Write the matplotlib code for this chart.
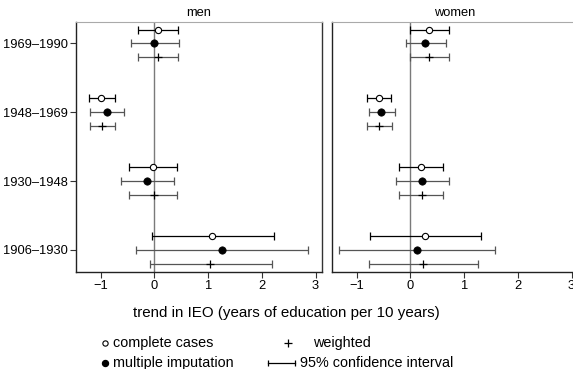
import numpy as np
import matplotlib
matplotlib.use('Agg')
from matplotlib import pyplot as plt
from matplotlib.lines import Line2D

plt.rcParams['font.family'] = ['Liberation Sans', 'DejaVu Sans']
plt.rcParams['font.size'] = 9

cohorts = ['1969\u20131990', '1948\u20131969', '1930\u20131948', '1906\u20131930']
ypos = np.array([4, 3, 2, 1])

# men: point estimate, lower and upper 95% bound
men_cc = [0.07, -0.99, -0.02, 1.08]
men_cc_lo = [-0.30, -1.22, -0.47, -0.05]
men_cc_hi = [0.43, -0.74, 0.42, 2.23]
men_mi = [0.00, -0.89, -0.14, 1.25]
men_mi_lo = [-0.44, -1.20, -0.63, -0.35]
men_mi_hi = [0.46, -0.56, 0.37, 2.86]
men_w = [0.07, -0.97, -0.01, 1.04]
men_w_lo = [-0.30, -1.20, -0.47, -0.09]
men_w_hi = [0.43, -0.73, 0.42, 2.19]

# women
women_cc = [0.34, -0.59, 0.19, 0.28]
women_cc_lo = [0.00, -0.81, -0.21, -0.76]
women_cc_hi = [0.71, -0.36, 0.61, 1.31]
women_mi = [0.28, -0.54, 0.22, 0.13]
women_mi_lo = [-0.09, -0.77, -0.27, -1.33]
women_mi_hi = [0.66, -0.29, 0.71, 1.58]
women_w = [0.35, -0.58, 0.21, 0.24]
women_w_lo = [0.00, -0.81, -0.21, -0.78]
women_w_hi = [0.71, -0.35, 0.61, 1.26]

panels = [
    ('men', (men_cc, men_cc_lo, men_cc_hi), (men_mi, men_mi_lo, men_mi_hi), (men_w, men_w_lo, men_w_hi)),
    ('women', (women_cc, women_cc_lo, women_cc_hi), (women_mi, women_mi_lo, women_mi_hi), (women_w, women_w_lo, women_w_hi)),
]

fig = plt.figure(figsize=(5.73, 3.69), dpi=100)
W, H = 573.0, 369.0
lefts = [76, 332]

def ebar(ax, est, lo, hi, y, marker, mfc, ecol, ms, mew):
    est = np.array(est); lo = np.array(lo); hi = np.array(hi)
    ax.errorbar(est, y, xerr=[est - lo, hi - est], fmt='none', ecolor=ecol,
                elinewidth=0.9, capsize=2.9, capthick=0.9, zorder=2)
    ax.plot(est, y, ls='none', marker=marker, mfc=mfc, mec='black', ms=ms, mew=mew, zorder=3)

for i, (title, cc, mi, w) in enumerate(panels):
    ax = fig.add_axes([lefts[i] / W, 1 - 272 / H, 246 / W, 250 / H])
    ax.axvline(0, color='#7a7a7a', lw=1.0, zorder=1)
    ebar(ax, cc[0], cc[1], cc[2], ypos + 0.2, 'o', 'white', 'black', 4.5, 0.8)
    ebar(ax, mi[0], mi[1], mi[2], ypos, 'o', 'black', '#555555', 5.3, 0.5)
    ebar(ax, w[0], w[1], w[2], ypos - 0.2, '+', 'black', '#555555', 5.5, 0.9)
    ax.set_xlim(-1.46, 3.12)
    ax.set_ylim(0.68, 4.31)
    ax.set_xticks([-1, 0, 1, 2, 3])
    ax.set_xticklabels(['\u22121', '0', '1', '2', '3'])
    ax.set_yticks(ypos)
    if i == 0:
        ax.set_yticklabels(cohorts)
    else:
        ax.tick_params(axis='y', left=False, labelleft=False)
    ax.tick_params(direction='out', length=4, width=0.8, color='#333333', labelsize=9.3, pad=2)
    for s in ['left', 'bottom']:
        ax.spines[s].set_color('#222222')
        ax.spines[s].set_linewidth(1.0)
    ax.spines['right'].set_color('#333333')
    ax.spines['right'].set_linewidth(1.0)
    ax.spines['top'].set_color('#aaaaaa')
    ax.spines['top'].set_linewidth(0.8)
    ax.set_title(title, fontsize=9.3, pad=4)

fig.text(286 / W, 1 - 313 / H, 'trend in IEO (years of education per 10 years)',
         ha='center', va='center', fontsize=10.9)

# legend
def fx(px):
    return px / W

def fy(py):
    return 1 - py / H

fig.add_artist(Line2D([fx(105)], [fy(343)], marker='o', mfc='white', mec='black', ms=3.8, mew=0.8, ls='none'))
fig.add_artist(Line2D([fx(105)], [fy(363)], marker='o', mfc='black', mec='black', ms=4.3, ls='none'))
fig.add_artist(Line2D([fx(288)], [fy(343)], marker='+', color='black', ms=5.5, mew=0.9, ls='none'))
fig.add_artist(Line2D([fx(268), fx(295)], [fy(363), fy(363)], color='black', lw=0.9))
fig.add_artist(Line2D([fx(268), fx(295)], [fy(363), fy(363)], marker='|', color='black', ms=5, mew=0.9, ls='none'))
fig.text(fx(113), fy(343), 'complete cases', va='center', fontsize=10.4)
fig.text(fx(113), fy(363), 'multiple imputation', va='center', fontsize=10.4)
fig.text(fx(313), fy(343), 'weighted', va='center', fontsize=10.4)
fig.text(fx(300), fy(363), '95% confidence interval', va='center', fontsize=10.4)

fig.savefig('out.png', dpi=100)
